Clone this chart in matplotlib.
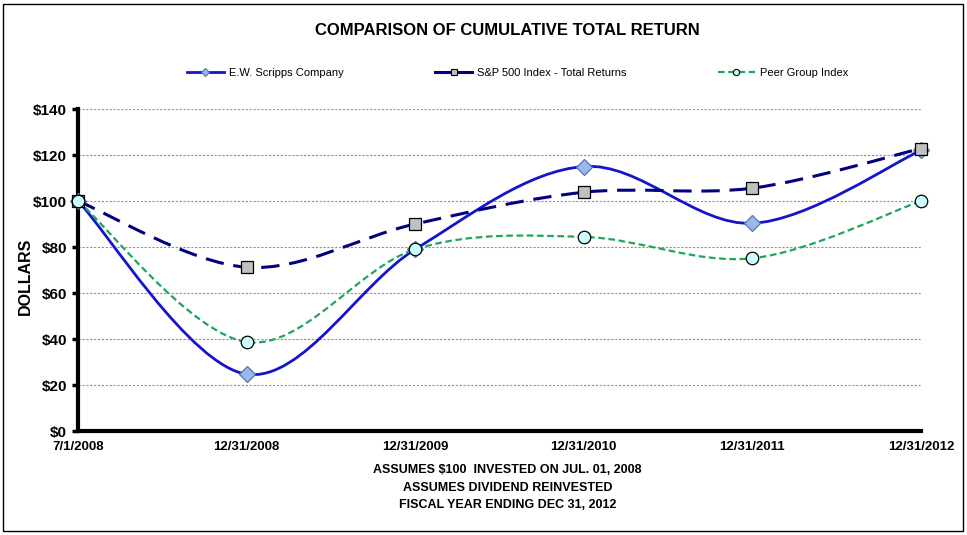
import numpy as np
import matplotlib
matplotlib.use('Agg')
import matplotlib.pyplot as plt
from matplotlib.path import Path
from matplotlib.patches import PathPatch, Rectangle

# %% data
periods  = ['7/1/2008', '12/31/2008', '12/31/2009', '12/31/2010', '12/31/2011', '12/31/2012']
scripps  = [100, 24.7, 79, 115, 90.3, 122]
sp500    = [100, 71.2, 90, 103.8, 105.6, 122.8]
peer     = [100, 38.7, 79, 84.4, 75.1, 100]
yticks   = [0, 20, 40, 60, 80, 100, 120, 140]

plt.rcParams['font.family'] = ['Liberation Sans', 'DejaVu Sans']


def smooth_path(x, y):
    # excel-like smoothed line (catmull-rom as cubic bezier)
    pts = np.column_stack([x, y]).astype(float)
    ext = np.vstack([pts[0], pts, pts[-1]])
    verts = [pts[0]]
    codes = [Path.MOVETO]
    for i in range(1, len(ext) - 2):
        p0, p1, p2, p3 = ext[i-1], ext[i], ext[i+1], ext[i+2]
        c1 = p1 + (p2 - p0) / 6.0
        c2 = p2 - (p3 - p1) / 6.0
        verts += [c1, c2, p2]
        codes += [Path.CURVE4] * 3
    return Path(verts, codes)


fig = plt.figure(figsize=(9.67, 5.35), dpi=100)
ax = fig.add_axes([78/967, 104/535, (921-78)/967, (431-109)/535])

xpos = np.arange(len(periods))
# values, label, colour, linestyle, width, marker, face, edge, size, legend linestyle
series = [
    (scripps, 'E.W. Scripps Company', '#1414CC', '-', 2.0, 'D', '#99B8EE', '#5577AA', 8, '-'),
    (sp500, 'S&P 500 Index - Total Returns', '#000080', (0, (6, 3.2)), 2.2, 's', '#C0C0C0', 'black', 8, '-'),
    (peer, 'Peer Group Index', '#1FA65A', (0, (3, 1.6)), 1.6, 'o', '#CCFFFF', 'black', 9, (0, (3, 1.6))),
]
handles = []
for vals, lab, col, ls, lw, mk, mfc, mec, ms, lls in series:
    patch = PathPatch(smooth_path(xpos, vals), facecolor='none', edgecolor=col,
                      linewidth=lw, linestyle=ls, zorder=3, clip_on=False)
    ax.add_patch(patch)
    ax.plot(xpos, vals, linestyle='none', marker=mk, markerfacecolor=mfc,
            markeredgecolor=mec, markersize=ms, markeredgewidth=0.9, zorder=4, clip_on=False)
    h, = ax.plot([], [], color=col, linestyle=lls, linewidth=lw, marker=mk,
                 markerfacecolor=mfc, markeredgecolor=mec, markersize=4.5, markeredgewidth=0.8)
    handles.append(h)

ax.set_xlim(0, 5)
ax.set_ylim(0, 140)
ax.set_yticks(yticks)
ax.set_yticklabels(['$' + str(v) for v in yticks], fontweight='bold', fontsize=11)
ax.set_xticks(xpos)
ax.set_xticklabels(periods, fontweight='bold', fontsize=9.5)
ax.tick_params(axis='x', length=0, pad=7)
ax.tick_params(axis='y', length=4, width=2.5, direction='out', pad=4)
ax.grid(axis='y', color='#909090', linestyle=(0, (2, 1.5)), linewidth=0.8)
ax.set_axisbelow(True)
for s in ['top', 'right']:
    ax.spines[s].set_visible(False)
for s in ['left', 'bottom']:
    ax.spines[s].set_linewidth(3)
ax.set_ylabel('DOLLARS', fontweight='bold', fontsize=11.5)
ax.yaxis.set_label_coords(-45/843, 0.48)

fig.text(0.525, 0.943, 'COMPARISON OF CUMULATIVE TOTAL RETURN', ha='center', va='center',
         fontweight='bold', fontsize=12)
fig.legend(handles=handles, labels=[s[1] for s in series], loc='center',
           bbox_to_anchor=(0.535, 0.864), ncol=3, frameon=False, fontsize=8,
           handlelength=3.4, columnspacing=8.2, handletextpad=0.4)

fig.text(0.525, 0.121, 'ASSUMES $100  INVESTED ON JUL. 01, 2008', ha='center', va='center',
         fontweight='bold', fontsize=9)
fig.text(0.525, 0.088, 'ASSUMES DIVIDEND REINVESTED', ha='center', va='center',
         fontweight='bold', fontsize=9)
fig.text(0.525, 0.056, 'FISCAL YEAR ENDING DEC 31, 2012', ha='center', va='center',
         fontweight='bold', fontsize=9)

fig.patches.append(Rectangle((3/967, 4/535), 960/967, 527/535, transform=fig.transFigure,
                             fill=False, edgecolor='black', linewidth=1))

fig.savefig('out.png', dpi=100)
